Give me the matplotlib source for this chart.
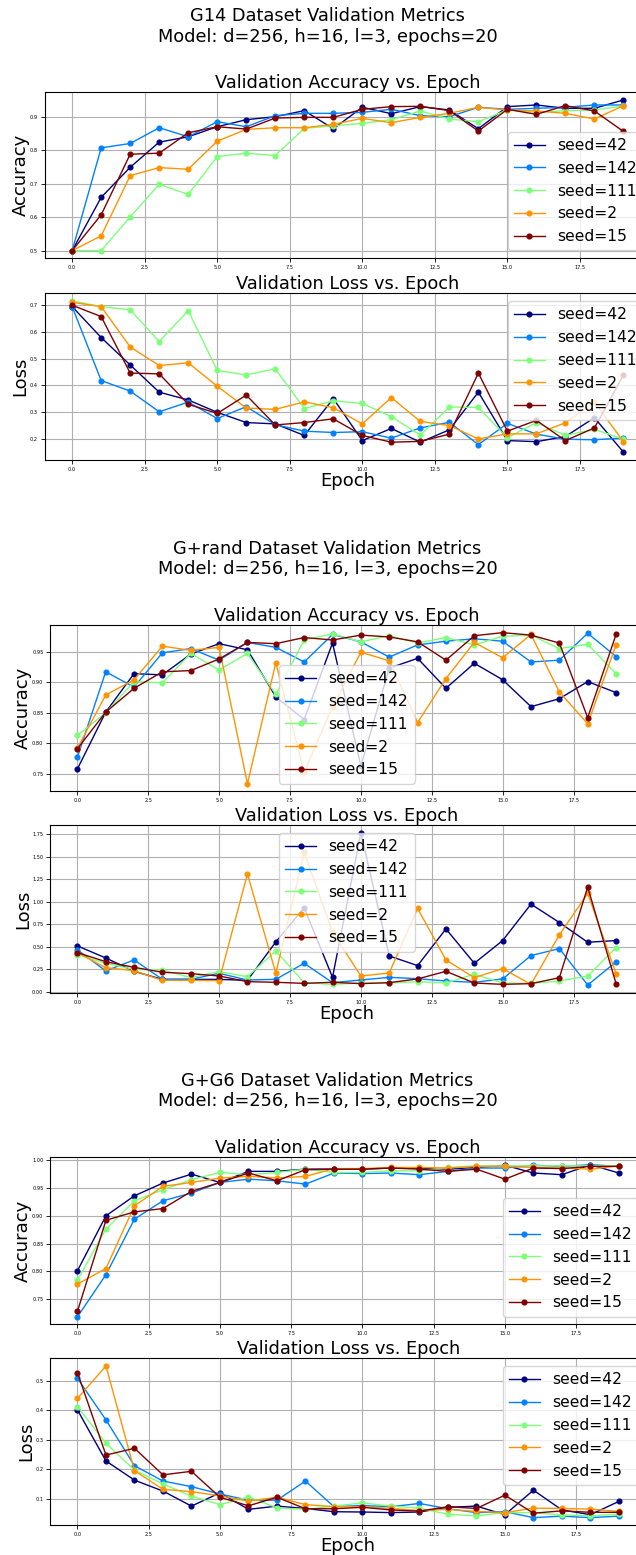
import numpy as np
import matplotlib
matplotlib.use('Agg')
import matplotlib.pyplot as plt
from matplotlib import cm

# epochs and seeds shared by all runs
epochs = list(range(20))
seeds = [42, 142, 111, 2, 15]

# G14 dataset, one row per seed (same order as seeds)
g14_acc = [
    [0.500, 0.659, 0.749, 0.824, 0.840, 0.870, 0.891, 0.900, 0.918, 0.864, 0.928, 0.909, 0.930, 0.920, 0.864, 0.930, 0.935, 0.925, 0.925, 0.950],
    [0.500, 0.807, 0.820, 0.867, 0.840, 0.885, 0.870, 0.903, 0.910, 0.910, 0.913, 0.922, 0.903, 0.900, 0.928, 0.922, 0.925, 0.928, 0.935, 0.935],
    [0.500, 0.500, 0.601, 0.698, 0.668, 0.781, 0.791, 0.784, 0.865, 0.873, 0.880, 0.891, 0.917, 0.893, 0.885, 0.920, 0.913, 0.918, 0.920, 0.932],
    [0.500, 0.544, 0.724, 0.748, 0.743, 0.827, 0.862, 0.867, 0.867, 0.877, 0.895, 0.882, 0.898, 0.910, 0.928, 0.920, 0.917, 0.910, 0.893, 0.933],
    [0.500, 0.607, 0.788, 0.791, 0.852, 0.870, 0.863, 0.896, 0.898, 0.898, 0.922, 0.930, 0.931, 0.918, 0.857, 0.922, 0.907, 0.933, 0.917, 0.856],
]
g14_loss = [
    [0.693, 0.578, 0.476, 0.375, 0.346, 0.300, 0.262, 0.257, 0.214, 0.351, 0.195, 0.240, 0.189, 0.235, 0.375, 0.195, 0.191, 0.210, 0.280, 0.152],
    [0.693, 0.418, 0.379, 0.302, 0.338, 0.277, 0.321, 0.254, 0.230, 0.225, 0.228, 0.204, 0.242, 0.263, 0.180, 0.259, 0.219, 0.200, 0.198, 0.205],
    [0.714, 0.693, 0.681, 0.563, 0.678, 0.456, 0.439, 0.462, 0.314, 0.343, 0.333, 0.284, 0.215, 0.320, 0.318, 0.205, 0.262, 0.214, 0.237, 0.200],
    [0.709, 0.693, 0.543, 0.474, 0.484, 0.397, 0.316, 0.311, 0.339, 0.317, 0.257, 0.355, 0.266, 0.251, 0.201, 0.220, 0.220, 0.261, 0.338, 0.191],
    [0.698, 0.656, 0.446, 0.443, 0.330, 0.296, 0.364, 0.253, 0.262, 0.276, 0.214, 0.189, 0.192, 0.219, 0.446, 0.230, 0.270, 0.195, 0.242, 0.438],
]

# G+rand dataset
grand_acc = [
    [0.758, 0.851, 0.914, 0.912, 0.946, 0.963, 0.953, 0.876, 0.839, 0.964, 0.763, 0.923, 0.939, 0.890, 0.931, 0.904, 0.860, 0.873, 0.901, 0.883],
    [0.777, 0.917, 0.892, 0.948, 0.955, 0.936, 0.965, 0.957, 0.933, 0.978, 0.966, 0.941, 0.961, 0.967, 0.971, 0.967, 0.933, 0.936, 0.980, 0.942],
    [0.813, 0.850, 0.901, 0.899, 0.947, 0.920, 0.947, 0.880, 0.969, 0.979, 0.966, 0.976, 0.964, 0.973, 0.961, 0.975, 0.977, 0.955, 0.962, 0.914],
    [0.792, 0.879, 0.904, 0.959, 0.952, 0.957, 0.734, 0.932, 0.753, 0.860, 0.949, 0.935, 0.834, 0.906, 0.965, 0.940, 0.978, 0.884, 0.832, 0.961],
    [0.791, 0.851, 0.890, 0.917, 0.919, 0.938, 0.965, 0.963, 0.973, 0.969, 0.977, 0.974, 0.966, 0.936, 0.976, 0.981, 0.977, 0.964, 0.842, 0.978],
]
grand_loss = [
    [0.512, 0.378, 0.230, 0.140, 0.140, 0.140, 0.130, 0.555, 0.935, 0.163, 1.765, 0.400, 0.293, 0.700, 0.319, 0.571, 0.975, 0.771, 0.552, 0.571],
    [0.470, 0.234, 0.356, 0.141, 0.141, 0.208, 0.133, 0.141, 0.319, 0.104, 0.133, 0.163, 0.148, 0.122, 0.108, 0.145, 0.404, 0.482, 0.078, 0.334],
    [0.412, 0.320, 0.250, 0.245, 0.160, 0.226, 0.170, 0.456, 0.104, 0.085, 0.100, 0.100, 0.115, 0.100, 0.197, 0.100, 0.096, 0.122, 0.178, 0.493],
    [0.437, 0.270, 0.237, 0.130, 0.130, 0.126, 1.310, 0.208, 1.548, 0.665, 0.178, 0.211, 0.927, 0.356, 0.159, 0.260, 0.085, 0.634, 1.094, 0.204],
    [0.437, 0.337, 0.274, 0.219, 0.204, 0.178, 0.115, 0.108, 0.096, 0.108, 0.093, 0.104, 0.145, 0.230, 0.100, 0.085, 0.093, 0.159, 1.164, 0.093],
]

# G+G6 dataset
gg6_acc = [
    [0.801, 0.900, 0.936, 0.959, 0.975, 0.960, 0.980, 0.980, 0.984, 0.984, 0.984, 0.986, 0.986, 0.984, 0.987, 0.991, 0.977, 0.974, 0.992, 0.977],
    [0.718, 0.794, 0.894, 0.927, 0.941, 0.960, 0.966, 0.963, 0.957, 0.977, 0.976, 0.977, 0.974, 0.980, 0.986, 0.986, 0.991, 0.989, 0.992, 0.989],
    [0.784, 0.876, 0.927, 0.947, 0.965, 0.978, 0.974, 0.978, 0.984, 0.978, 0.978, 0.981, 0.981, 0.987, 0.990, 0.990, 0.990, 0.990, 0.990, 0.990],
    [0.777, 0.805, 0.918, 0.953, 0.960, 0.968, 0.971, 0.968, 0.971, 0.985, 0.985, 0.987, 0.987, 0.986, 0.989, 0.989, 0.987, 0.986, 0.984, 0.990],
    [0.728, 0.892, 0.907, 0.913, 0.944, 0.960, 0.977, 0.963, 0.983, 0.984, 0.984, 0.986, 0.984, 0.980, 0.984, 0.966, 0.986, 0.985, 0.989, 0.989],
]
gg6_loss = [
    [0.401, 0.228, 0.163, 0.126, 0.075, 0.120, 0.064, 0.075, 0.067, 0.056, 0.055, 0.053, 0.055, 0.071, 0.075, 0.046, 0.129, 0.062, 0.046, 0.091],
    [0.508, 0.367, 0.212, 0.160, 0.141, 0.116, 0.095, 0.095, 0.160, 0.073, 0.077, 0.073, 0.084, 0.066, 0.053, 0.056, 0.036, 0.041, 0.036, 0.041],
    [0.412, 0.288, 0.197, 0.150, 0.109, 0.080, 0.106, 0.069, 0.064, 0.075, 0.086, 0.075, 0.068, 0.047, 0.042, 0.053, 0.053, 0.045, 0.042, 0.048],
    [0.440, 0.550, 0.195, 0.132, 0.124, 0.110, 0.092, 0.105, 0.080, 0.073, 0.073, 0.067, 0.060, 0.064, 0.057, 0.053, 0.068, 0.067, 0.065, 0.057],
    [0.527, 0.248, 0.271, 0.181, 0.193, 0.105, 0.076, 0.105, 0.066, 0.066, 0.071, 0.062, 0.058, 0.073, 0.067, 0.112, 0.051, 0.059, 0.054, 0.054],
]

datasets = ['G14', 'G+rand', 'G+G6']
model_desc = 'Model: d=256, h=16, l=3, epochs=20'

colors = cm.jet(np.linspace(0, 1, len(seeds)))

W, H = 636, 1555
fig = plt.figure(figsize=(W / 100, H / 100), dpi=100)


def px_axes(left, right, top, bottom):
    """axes from pixel edges (top-left origin)"""
    return fig.add_axes([left / W, 1 - bottom / H, (right - left) / W, (bottom - top) / H])


def plot_panel(ax, data, title, ylabel, loc, xlabel=None):
    for i, seed in enumerate(seeds):
        ax.plot(epochs, data[i], marker='o', markersize=3.4, linewidth=1.0,
                color=colors[i], label=f'seed={seed}')
    ax.set_title(title, fontsize=12.8, pad=1.5)
    ax.set_ylabel(ylabel, fontsize=13, labelpad=0)
    if xlabel:
        ax.set_xlabel(xlabel, fontsize=13, labelpad=0)
    ax.tick_params(labelsize=3.6, length=3, width=0.6, pad=2)
    ax.grid(True)
    ax.legend(fontsize=11.2, loc=loc)


# pixel boxes for each group: (left, right, acc top, acc bottom, loss top, loss bottom)
layout = [
    (44.6, 651.0, 92.4, 258.2, 293.4, 459.7),
    (50.4, 643.0, 625.1, 791.3, 825.3, 992.6),
    (50.4, 646.0, 1157.1, 1324.4, 1358.4, 1525.2),
]
acc_data = [g14_acc, grand_acc, gg6_acc]
loss_data = [g14_loss, grand_loss, gg6_loss]
acc_locs = ['lower right', 'lower center', 'lower right']
loss_locs = ['upper right', 'upper center', 'upper right']

for k, name in enumerate(datasets):
    left, right, at, ab, lt, lb = layout[k]
    fig.text(327.5 / W, 1 - (at - 85) / H,
             f'{name} Dataset Validation Metrics\n{model_desc}',
             ha='center', va='top', fontsize=12.8, linespacing=1.15)
    ax_acc = px_axes(left, right, at, ab)
    plot_panel(ax_acc, acc_data[k], 'Validation Accuracy vs. Epoch', 'Accuracy', acc_locs[k])
    ax_loss = px_axes(left, right, lt, lb)
    plot_panel(ax_loss, loss_data[k], 'Validation Loss vs. Epoch', 'Loss', loss_locs[k], xlabel='Epoch')

fig.savefig('out.png', dpi=100)
